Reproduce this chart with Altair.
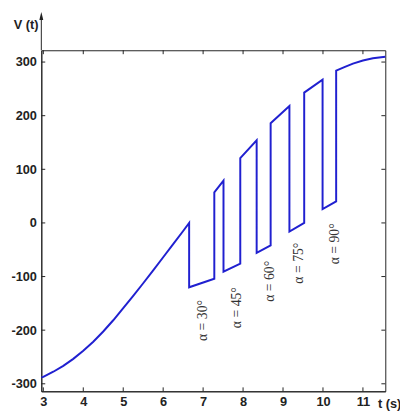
import altair as alt
import pandas as pd

# main curve + switching sawtooth (t in s, V in volts), in drawing order
t_vals = [2.95, 3.0, 3.25, 3.5, 3.75, 4.0, 4.25, 4.5, 4.75, 5.0, 5.25, 5.5, 5.75,
          6.0, 6.25, 6.5, 6.65,
          6.65, 7.28, 7.28, 7.51, 7.51, 7.93, 7.93, 8.34, 8.34, 8.69, 8.69, 9.16,
          9.16, 9.53, 9.53, 9.99, 9.99, 10.33, 10.33,
          10.55, 10.75, 11.0, 11.25, 11.56]
v_vals = [-288, -287, -277.5, -266.5, -253.5, -238.5, -221.5, -202.5, -181.5, -159, -136, -112.5, -88.5,
          -64, -39.5, -15, 0,
          -120, -104, 57, 79, -91, -76, 121, 154, -56, -42, 186, 218,
          -16, 0, 243, 267, 26, 40, 284,
          291, 297, 303, 307, 310]

label_texts = ["α = 30°", "α = 45°", "α = 60°", "α = 75°", "α = 90°"]
label_t = [7.01, 7.85, 8.67, 9.40, 10.31]
label_v = [-182, -158, -109, -75, -39]

x_ticks = [3, 4, 5, 6, 7, 8, 9, 10, 11]
y_ticks = [-300, -200, -100, 0, 100, 200, 300]

W, H = 351, 348
AX = "#222222"
BLUE = "#2020d0"

curve = pd.DataFrame({"t": t_vals, "V": v_vals, "o": list(range(len(t_vals)))})
labels = pd.DataFrame({"t": label_t, "V": label_v, "txt": label_texts})
xt = pd.DataFrame({"t": x_ticks})
yt = pd.DataFrame({"V": y_ticks})

xscale = alt.Scale(domain=[2.95, 11.56], nice=False, zero=False)
yscale = alt.Scale(domain=[-314, 322], nice=False, zero=False)

xaxis = alt.Axis(values=x_ticks, tickSize=0, grid=False, domainColor=AX,
                 labelFont="Liberation Sans", labelFontWeight="bold", labelFontSize=13,
                 labelColor=AX, labelPadding=5, labelFlush=False,
                 title="t (s)", titleFont="Liberation Sans", titleFontWeight="bold",
                 titleFontSize=13, titleColor=AX, titleAngle=0, titleAlign="left",
                 titleBaseline="middle", titleX=343, titleY=13)
yaxis = alt.Axis(values=y_ticks, tickSize=0, grid=False, domainColor=AX,
                 labelFont="Liberation Sans", labelFontWeight="bold", labelFontSize=13,
                 labelColor=AX, labelPadding=5, labelFlush=False,
                 labelExpr="datum.value + ''",
                 title="V (t)", titleFont="Liberation Sans", titleFontWeight="bold",
                 titleFontSize=13, titleColor=AX, titleAngle=0, titleAlign="center",
                 titleBaseline="middle", titleX=-16, titleY=-26)

xenc = alt.X("t:Q", scale=xscale, axis=xaxis)
yenc = alt.Y("V:Q", scale=yscale, axis=yaxis)

line = alt.Chart(curve).mark_line(color=BLUE, strokeWidth=2).encode(
    x=xenc, y=yenc, order="o:Q")

text = alt.Chart(labels).mark_text(angle=270, font="Liberation Serif", fontSize=14,
                                   color="#333333", align="center",
                                   baseline="middle").encode(x=xenc, y=yenc, text="txt:N")

tick_b = alt.Chart(xt).mark_rule(color=AX, strokeWidth=1).encode(
    x=xenc, y=alt.value(H), y2=alt.value(H - 4))
tick_t = alt.Chart(xt).mark_rule(color=AX, strokeWidth=1).encode(
    x=xenc, y=alt.value(0), y2=alt.value(4))
tick_l = alt.Chart(yt).mark_rule(color=AX, strokeWidth=1).encode(
    y=yenc, x=alt.value(0), x2=alt.value(4))
tick_r = alt.Chart(yt).mark_rule(color=AX, strokeWidth=1).encode(
    y=yenc, x=alt.value(W), x2=alt.value(W - 4))

one = alt.Data(values=[{"a": 1}])
ext = alt.Chart(one).mark_rule(color=AX, strokeWidth=1).encode(
    x=alt.value(0), y=alt.value(0), y2=alt.value(-34))
arrow = alt.Chart(one).mark_point(shape="M0,-1L0.5,1L-0.5,1Z", filled=True, size=64,
                                  color=AX, opacity=1).encode(
    x=alt.value(0), y=alt.value(-35))

chart = alt.layer(line, text, tick_b, tick_t, tick_l, tick_r, ext, arrow).properties(
    width=W, height=H,
    padding={"left": 34, "top": 39, "right": 15, "bottom": 17},
    autosize=alt.AutoSizeParams(type="none"),
    background="white",
).configure_view(stroke=AX, strokeWidth=1)

chart.save("out.html", embed_options={"renderer": "svg", "actions": False})
